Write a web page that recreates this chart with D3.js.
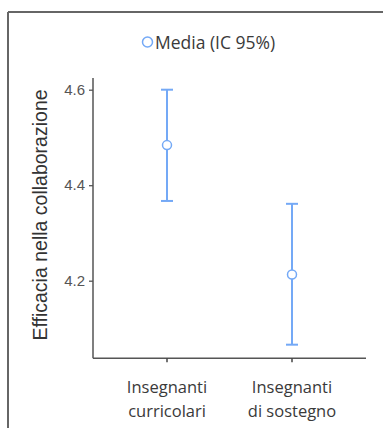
<!DOCTYPE html>
<html>
<head>
<meta charset="utf-8">
<script src="https://cdn.jsdelivr.net/npm/d3@7"></script>
<style>
  body { margin: 0; background: #fff; }
  svg { display: block; }
</style>
</head>
<body>
<svg id="chart" width="383" height="428"></svg>
<script>
  // Data
  const categories = [['Insegnanti', 'curricolari'], ['Insegnanti', 'di sostegno']];
  const means = [4.484, 4.213];
  const lower = [4.367, 4.066];
  const upper = [4.600, 4.361];
  const yTicks = [4.2, 4.4, 4.6];
  const legendLabel = 'Media (IC 95%)';
  const yLabel = 'Efficacia nella collaborazione';

  const blue = '#74a9f6';
  const svg = d3.select('#chart');

  // Frame (only top and left edges are visible in the crop)
  svg.append('line').attr('x1', 8).attr('x2', 383).attr('y1', 12).attr('y2', 12)
    .attr('stroke', '#666').attr('stroke-width', 2);
  svg.append('line').attr('x1', 8).attr('x2', 8).attr('y1', 12).attr('y2', 428)
    .attr('stroke', '#666').attr('stroke-width', 2);

  // Scales
  const y = d3.scaleLinear().domain([4.2, 4.6]).range([280.7, 89.7]);
  const x = d3.scalePoint().domain(d3.range(categories.length)).range([167, 292]);
  const axisTop = 78, axisBottom = 358.3, axisLeft = 93, axisRight = 366;

  // Y axis
  const yAxis = svg.append('g').attr('transform', `translate(${axisLeft},0)`)
    .call(d3.axisLeft(y).tickValues(yTicks).tickFormat(d3.format('.1f')).tickSize(4).tickSizeOuter(0));
  yAxis.select('.domain').remove();
  yAxis.selectAll('line').attr('stroke', '#555').attr('stroke-width', 1.3);
  yAxis.selectAll('text').attr('fill', '#555').style('font-family', 'Liberation Sans, Arial, sans-serif')
    .style('font-size', '15px').attr('x', -8).attr('dy', '0.3em');
  svg.append('line').attr('x1', axisLeft).attr('x2', axisLeft).attr('y1', axisTop).attr('y2', axisBottom)
    .attr('stroke', '#555').attr('stroke-width', 1.5);

  // X axis
  svg.append('line').attr('x1', axisLeft).attr('x2', axisRight).attr('y1', axisBottom).attr('y2', axisBottom)
    .attr('stroke', '#555').attr('stroke-width', 1.5);
  const xg = svg.append('g');
  categories.forEach((c, i) => {
    xg.append('line').attr('x1', x(i)).attr('x2', x(i)).attr('y1', axisBottom).attr('y2', axisBottom + 4)
      .attr('stroke', '#444').attr('stroke-width', 1.5);
    const t = xg.append('text').attr('text-anchor', 'middle').attr('fill', '#3a3a3a')
      .style('font-family', 'Open Sans, sans-serif').style('font-size', '16.5px');
    c.forEach((line, j) => {
      t.append('tspan').attr('x', x(i)).attr('y', 393 + j * 24).text(line);
    });
  });

  // Y label
  svg.append('text')
    .attr('transform', `translate(47,215) rotate(-90)`)
    .attr('text-anchor', 'middle').attr('fill', '#333')
    .style('font-family', 'Liberation Sans, Arial, sans-serif').style('font-size', '19.5px')
    .text(yLabel);

  // Error bars
  const bars = svg.append('g').selectAll('g').data(means).enter().append('g');
  bars.append('line')
    .attr('x1', (d, i) => x(i)).attr('x2', (d, i) => x(i))
    .attr('y1', (d, i) => y(lower[i])).attr('y2', (d, i) => y(upper[i]))
    .attr('stroke', blue).attr('stroke-width', 2);
  [lower, upper].forEach(arr => {
    bars.append('line')
      .attr('x1', (d, i) => x(i) - 6).attr('x2', (d, i) => x(i) + 6)
      .attr('y1', (d, i) => y(arr[i])).attr('y2', (d, i) => y(arr[i]))
      .attr('stroke', blue).attr('stroke-width', 2);
  });
  bars.append('circle')
    .attr('cx', (d, i) => x(i)).attr('cy', d => y(d)).attr('r', 4.5)
    .attr('fill', '#fff').attr('stroke', blue).attr('stroke-width', 1.5);

  // Legend
  svg.append('circle').attr('cx', 147.5).attr('cy', 42).attr('r', 5)
    .attr('fill', '#fff').attr('stroke', blue).attr('stroke-width', 1.5);
  svg.append('text').attr('x', 155).attr('y', 48.5).attr('fill', '#3a3a3a')
    .style('font-family', 'Open Sans, sans-serif').style('font-size', '17.5px')
    .text(legendLabel);
</script>
</body>
</html>
